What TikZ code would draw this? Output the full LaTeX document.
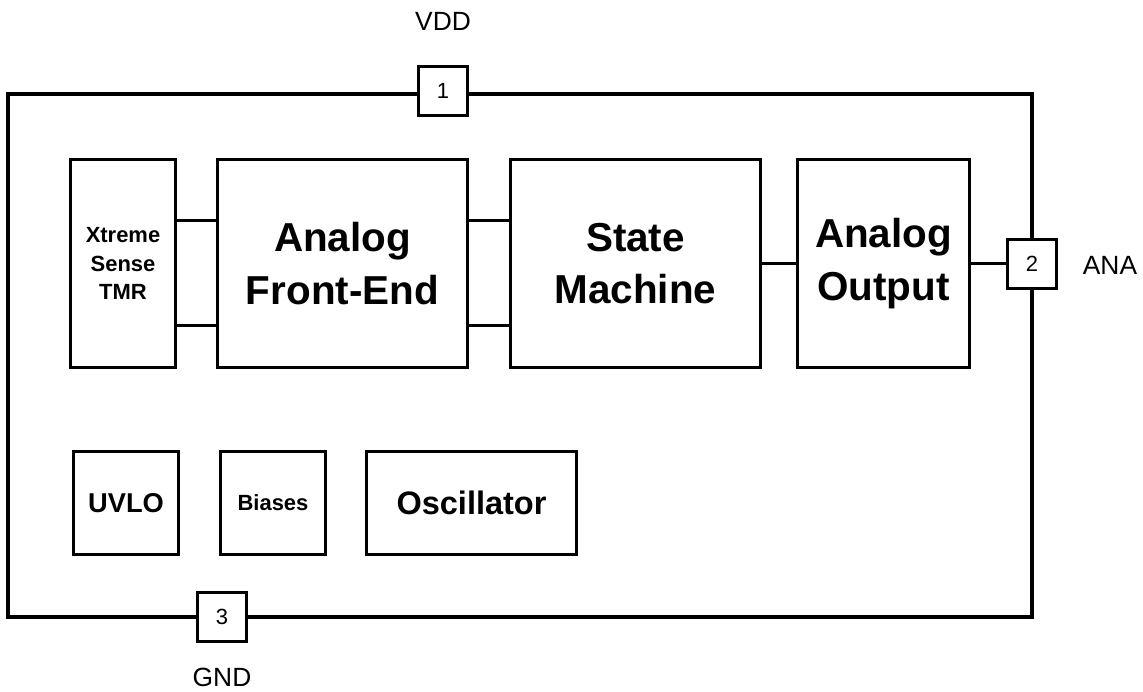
\documentclass[tikz,border=0pt]{standalone}
\usepackage{fontspec}
\setmainfont{Liberation Sans}
\usepackage{tikz}
\usetikzlibrary{positioning}

\begin{document}
\begin{tikzpicture}[
  blk/.style={rectangle, draw, line width=1.7pt, align=center, inner sep=0pt,
              minimum height=4.16cm, font=\bfseries\fontsize{23}{30}\selectfont},
  small/.style={blk, minimum height=2.06cm, minimum width=2.1cm},
  pin/.style={rectangle, draw, fill=white, line width=1.5pt, minimum size=0.98cm,
              inner sep=0pt, font=\fontsize{12.5}{14}\selectfont},
  lbl/.style={font=\fontsize{15}{18}\selectfont},
  wire/.style={line width=1.7pt},
  chip/.style={line width=2.8pt},
]
\useasboundingbox (0,0) rectangle (22.86,13.84);

% package outline
\draw[chip] (0.16,1.50) rectangle (20.64,11.96);

% signal path
\node[blk, minimum width=2.1cm, font=\bfseries\fontsize{12.5}{16}\selectfont]
  (tmr) at (2.46,8.57) {Xtreme\\Sense\\TMR};
\node[blk, minimum width=5.0cm]  (afe) at (6.85,8.57)  {Analog\\Front-End};
\node[blk, minimum width=5.0cm]  (sm)  at (12.71,8.57) {State\\Machine};
\node[blk, minimum width=3.44cm] (ao)  at (17.67,8.57) {Analog\\Output};

% support blocks
\node[small, font=\bfseries\fontsize{15.5}{18}\selectfont] (uvlo) at (2.52,3.78) {UVLO};
\node[small, font=\bfseries\fontsize{12.5}{15}\selectfont] (bias) at (5.46,3.78) {Biases};
\node[small, minimum width=4.2cm, font=\bfseries\fontsize{18.5}{22}\selectfont]
  (osc) at (9.43,3.78) {Oscillator};

% pins
\node[pin] (p1) at (8.86,12.02) {1};
\node[pin] (p2) at (20.64,8.56) {2};
\node[pin] (p3) at (4.44,1.50)  {3};

\node[lbl] (vdd) at (8.86,13.42) {VDD};
\node[lbl] (ana) at (22.20,8.54) {ANA};
\node[lbl] (gnd) at (4.44,0.30)  {GND};

\draw[wire] (tmr.east |- 0,9.42) -- (afe.west |- 0,9.42);
\draw[wire] (tmr.east |- 0,7.32) -- (afe.west |- 0,7.32);
\draw[wire] (afe.east |- 0,9.42) -- (sm.west |- 0,9.42);
\draw[wire] (afe.east |- 0,7.32) -- (sm.west |- 0,7.32);
\draw[wire] (sm) -- (ao);
\draw[wire] (ao.east |- p2) -- (p2);

\end{tikzpicture}
\end{document}
